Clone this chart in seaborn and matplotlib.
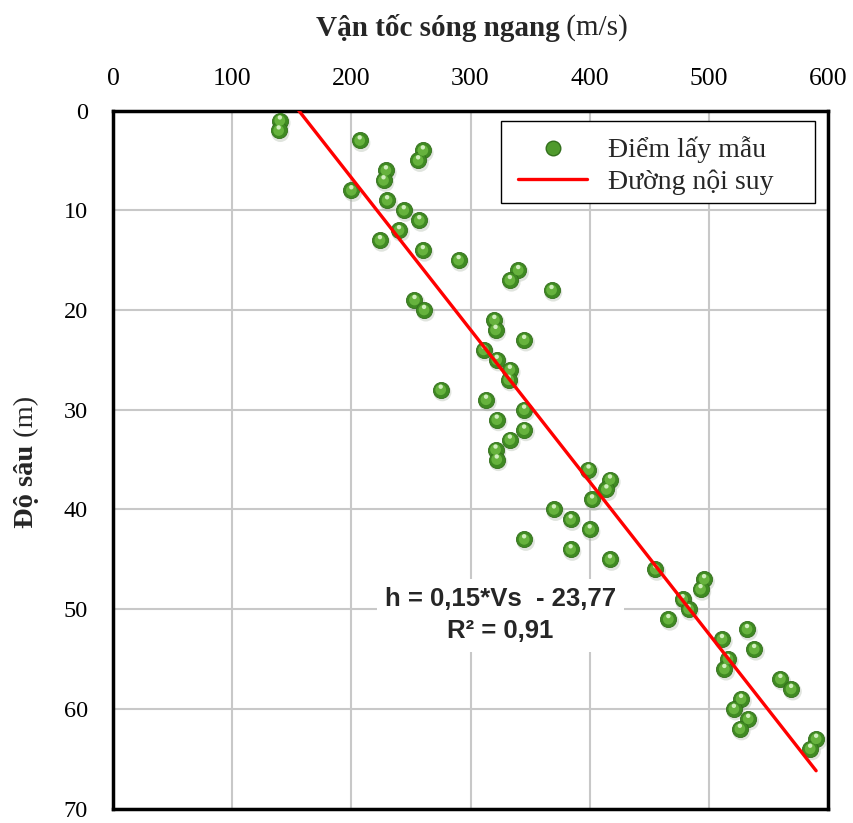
import numpy as np
import pandas as pd
import seaborn as sns
import matplotlib
matplotlib.use("Agg")
import matplotlib.pyplot as plt
from matplotlib import transforms
from matplotlib.lines import Line2D
from matplotlib.patches import Rectangle

# Shear-wave velocity (m/s) measured at each sampling depth (m)
depth = list(range(1, 65))
velocity = [
    140, 139, 207, 260, 256, 229, 227, 200, 230, 244,
    257, 240, 224, 260, 290, 340, 333, 368, 253, 261,
    320, 321, 345, 311, 322, 333, 332, 275, 313, 345,
    322, 345, 333, 321, 322, 399, 417, 414, 402, 370,
    384, 400, 345, 384, 417, 455, 496, 493, 478, 483,
    466, 532, 511, 538, 516, 513, 560, 569, 527, 521,
    533, 526, 590, 585,
]

# Trend-line coefficients: h = slope*Vs + intercept
slope = 0.1525
intercept = -23.77
r_squared = 0.91

x_ticks = [0, 100, 200, 300, 400, 500, 600]
y_ticks = [0, 10, 20, 30, 40, 50, 60, 70]

df = pd.DataFrame({"Vs": velocity, "h": depth})

sns.set_theme(style="white")
plt.rcParams["font.family"] = ["Liberation Serif", "DejaVu Serif"]

fig = plt.figure(figsize=(8.54, 8.23), dpi=100)
ax = fig.add_axes([0.1323, 0.0175, 0.8373, 0.8482])

# sample points: shaded green spheres
sphere_shadow = transforms.offset_copy(ax.transData, fig=fig, x=1.2, y=-1.8, units="points")
sns.scatterplot(data=df, x="Vs", y="h", ax=ax, s=170, color="#9aa894", alpha=0.3,
                edgecolor="none", transform=sphere_shadow, legend=False, zorder=3)
sns.scatterplot(data=df, x="Vs", y="h", ax=ax, s=135, color="#3f8a22",
                edgecolor="#336f1c", linewidth=0.6, legend=False, zorder=4)
sns.scatterplot(data=df, x="Vs", y="h", ax=ax, s=60, color="#66b23d",
                edgecolor="none", legend=False, zorder=5)
hl = transforms.offset_copy(ax.transData, fig=fig, x=0, y=2.2, units="points")
sns.scatterplot(data=df, x="Vs", y="h", ax=ax, s=10, color="#d2eebf",
                edgecolor="none", transform=hl, legend=False, zorder=6)

# trend line over the velocity range of the samples
vs_line = np.array([df["Vs"].min(), df["Vs"].max()])
sns.lineplot(x=vs_line, y=slope * vs_line + intercept, ax=ax, color="red",
             linewidth=2.4, zorder=7)

ax.set_xlim(0, 600)
ax.set_ylim(70, 0)
ax.set_xticks(x_ticks)
ax.set_yticks(y_ticks)
ax.xaxis.tick_top()
ax.tick_params(axis="both", length=0, colors="black")
ax.tick_params(axis="x", pad=15, labelsize=18.5)
ax.tick_params(axis="y", pad=18, labelsize=17.5)
ax.grid(True, color="#c8c8c8", linewidth=1.5)
ax.set_axisbelow(True)
for sp in ax.spines.values():
    sp.set_color("black")
    sp.set_linewidth(2.5)
ax.set_xlabel("")
ax.set_ylabel("")

# axis titles with bold name and regular unit
fig.canvas.draw()
renderer = fig.canvas.get_renderer()

t1 = fig.text(0.0, 1 - 28 / 823, "Vận tốc sóng ngang", fontsize=21, fontweight="bold",
              ha="left", va="center")
t2 = fig.text(0.0, 1 - 28 / 823, " (m/s)", fontsize=21, ha="left", va="center")
w1 = t1.get_window_extent(renderer).width
w2 = t2.get_window_extent(renderer).width
x0 = 472 - (w1 + w2) / 2
t1.set_x(x0 / 854)
t2.set_x((x0 + w1) / 854)

y1 = fig.text(27 / 854, 0, "Độ sâu", fontsize=20.5, fontweight="bold", rotation=90,
              ha="center", va="bottom")
y2 = fig.text(27 / 854, 0, " (m)", fontsize=20.5, rotation=90, ha="center", va="bottom")
h1 = y1.get_window_extent(renderer).height
h2 = y2.get_window_extent(renderer).height
yb = 823 - 462 - (h1 + h2) / 2
y1.set_y(yb / 823)
y2.set_y((yb + h1) / 823)

# regression equation
eq = f"h = {slope:.2f}*Vs  - {abs(intercept):.2f}".replace(".", ",")
rr = f"R² = {r_squared:.2f}".replace(".", ",")
ax.text(325, 50.6, eq + "\n" + rr, fontsize=18.5, fontweight="bold",
        family=["Liberation Sans", "DejaVu Sans"], ha="center", va="center",
        linespacing=1.45, zorder=8,
        bbox=dict(facecolor="white", edgecolor="none", pad=6))

# legend box, wider than its entries
ax.add_patch(Rectangle((0.5427, 0.8682), 0.4391, 0.1168, transform=ax.transAxes,
                       facecolor="white", edgecolor="black", linewidth=1.0,
                       zorder=9, clip_on=False))
handles = [
    Line2D([], [], marker="o", linestyle="none", markersize=10.5,
           markerfacecolor="#4f9a2c", markeredgecolor="#336f1c"),
    Line2D([], [], color="red", linewidth=2.4),
]
leg = ax.legend(handles, ["Điểm lấy mẫu", "Đường nội suy"], loc="upper left",
                bbox_to_anchor=(0.5664, 0.963), fontsize=20, frameon=False,
                handlelength=2.5, handletextpad=0.75, borderpad=0,
                labelspacing=0.22, borderaxespad=0)
leg.set_zorder(10)

fig.savefig("out.png", dpi=100)
